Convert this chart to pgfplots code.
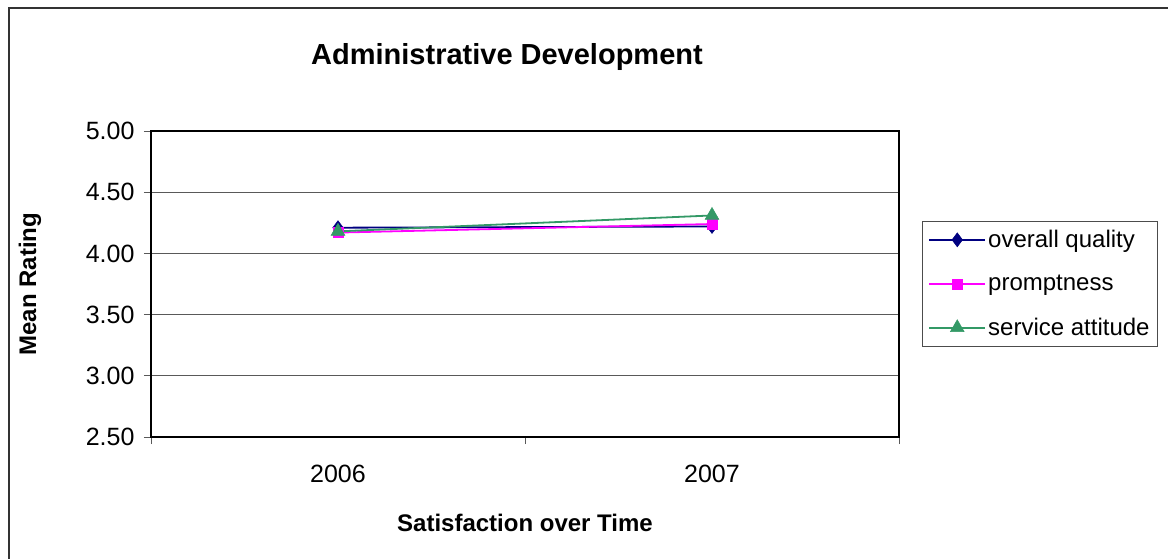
\documentclass[border=0pt]{standalone}
\usepackage{fontspec}
\setmainfont{Liberation Sans}
\usepackage{pgfplots}
\pgfplotsset{compat=1.18}
\definecolor{cnavy}{RGB}{0,0,128}
\definecolor{cmag}{RGB}{255,0,255}
\definecolor{cgreen}{RGB}{51,153,102}
\begin{document}
\begin{tikzpicture}
\useasboundingbox (-151pt,-121pt) rectangle (1017pt,437pt);
\draw[line width=1.3pt, black!80] (-142pt,-125pt) -- (-142pt,429pt) -- (1025pt,429pt);
\begin{axis}[
  scale only axis,
  width=748pt, height=306pt,
  xmin=-0.5, xmax=1.5,
  ymin=2.5, ymax=5,
  xtick={-0.5,0.5,1.5},
  x tick label as interval,
  xticklabels={2006,2007},
  ytick={2.5,3,3.5,4,4.5,5},
  /pgf/number format/.cd, fixed, fixed zerofill, precision=2, assume math mode=true,
  /pgfplots/.cd,
  tick pos=left,
  ymajorgrids,
  grid style={gray!70!black, line width=0.8pt},
  tick align=outside,
  major tick length=7pt,
  tick style={draw=gray!70!black, line width=0.8pt},
  axis line style={black, line width=1.5pt},
  tick label style={font=\fontsize{25}{30}\selectfont},
  yticklabel style={xshift=-6pt},
  xticklabel style={yshift=-18pt},
  legend style={
    at={(1.0307,0.7059)}, anchor=north west,
    draw=gray!60!black, line width=0.8pt,
    font=\fontsize{24}{29}\selectfont,
    row sep=22pt, inner xsep=6pt, inner ysep=7pt,
    cells={anchor=west},
  },
  legend image code/.code={
    \draw[mark repeat=2, mark phase=2, #1] plot coordinates {(0pt,0pt) (28pt,0pt) (56pt,0pt)};
  },
]
\addplot[cnavy, line width=1.8pt, mark=diamond*, mark size=7pt, mark options={solid, fill=cnavy, draw=cnavy, line width=0.5pt}]
  coordinates {(0,4.21) (1,4.22)};
\addlegendentry{overall quality}
\addplot[cmag, line width=1.8pt, mark=square*, mark size=5pt, mark options={solid, fill=cmag, draw=cmag, line width=0.5pt}]
  coordinates {(0,4.17) (1,4.24)};
\addlegendentry{promptness}
\addplot[cgreen, line width=1.8pt, mark=triangle*, mark size=8pt, mark options={solid, fill=cgreen, draw=cgreen, line width=0.5pt}]
  coordinates {(0,4.18) (1,4.31)};
\addlegendentry{service attitude}
\end{axis}
\node[font=\fontsize{29}{35}\selectfont\bfseries] at (356pt,380pt) {Administrative Development};
\node[font=\fontsize{24}{29}\selectfont\bfseries] at (374pt,-86pt) {Satisfaction over Time};
\node[font=\fontsize{24}{29}\selectfont\bfseries, rotate=90] at (-121pt,153pt) {Mean Rating};
\end{tikzpicture}
\end{document}
